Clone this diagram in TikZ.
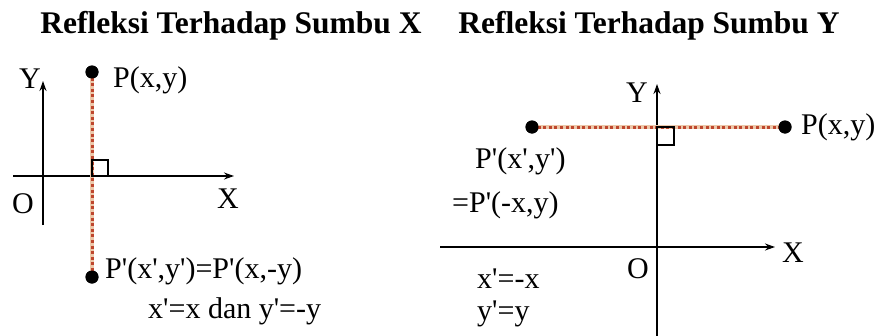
\documentclass[tikz,border=0pt]{standalone}
\usepackage{fontspec}
\newfontfamily\tf{Liberation Serif}
\usetikzlibrary{arrows.meta}
\definecolor{dotred}{RGB}{190,70,45}
\definecolor{halo}{RGB}{236,200,170}
\tikzset{
  axis/.style={line width=2.4pt,-{Stealth[length=10pt,width=7pt]}},
  refl/.style={dotred,line width=3pt,dash pattern=on 3pt off 2.6pt},
  reflhalo/.style={halo,line width=4.5pt},
  pt/.style={circle,fill=black,inner sep=0pt,minimum size=13pt},
  lbl/.style={anchor=base west,inner sep=0pt,font=\tf\fontsize{30}{34}\selectfont},
  ttl/.style={anchor=base,inner sep=0pt,font=\tf\bfseries\fontsize{31.5}{36}\selectfont},
  rangle/.style={line width=1.8pt}
}
\begin{document}
\begin{tikzpicture}[x=1pt,y=-1pt]
\useasboundingbox (0,0) rectangle (879,335);
% ---------- left ----------
\node[ttl] (t1) at (231,33) {Refleksi Terhadap Sumbu X};
\coordinate (oy1b) at (43,225);
\coordinate (oy1t) at (43,81);
\coordinate (ox1l) at (13,176);
\coordinate (ox1r) at (234,176);
\draw[axis] (oy1b) -- (oy1t);
\draw[axis] (ox1l) -- (ox1r);
\node[pt] (P1) at (92,72) {};
\node[pt] (Q1) at (92,277) {};
\draw[reflhalo] (P1.center) -- (Q1.center);
\draw[refl] (P1.center) -- (Q1.center);
\draw[rangle] (92,160) rectangle (108,176);
\node[pt] at (92,72) {};
\node[pt] at (92,277) {};
\node[lbl] (ly1) at (19,88) {Y};
\node[lbl] (lo1) at (12,213) {O};
\node[lbl] (lx1) at (217,208) {X};
\node[lbl] (lp1) at (113,87) {P(x,y)};
\node[lbl] (lq1) at (105,278) {P'(x',y')=P'(x,-y)};
\node[lbl] (le1) at (148,318) {x'=x dan y'=-y};
% ---------- right ----------
\node[ttl] (t2) at (649,33) {Refleksi Terhadap Sumbu Y};
\coordinate (oy2b) at (657,336);
\coordinate (oy2t) at (657,84);
\coordinate (ox2l) at (440,247);
\coordinate (ox2r) at (775,247);
\draw[axis] (oy2b) -- (oy2t);
\draw[axis] (ox2l) -- (ox2r);
\node[pt] (P2) at (785,127) {};
\node[pt] (Q2) at (532,127) {};
\draw[reflhalo] (Q2.center) -- (P2.center);
\draw[refl] (Q2.center) -- (P2.center);
\draw[rangle] (657,127) rectangle (674,145);
\node[pt] at (785,127) {};
\node[pt] at (532,127) {};
\node[lbl] (ly2) at (626,102) {Y};
\node[lbl] (lo2) at (627,278) {O};
\node[lbl] (lx2) at (782,262) {X};
\node[lbl] (lp2) at (801,134) {P(x,y)};
\node[lbl] (lq2) at (475,168) {P'(x',y')};
\node[lbl] (lq2b) at (452,212) {=P'(-x,y)};
\node[lbl] (le2) at (477,288) {x'=-x};
\node[lbl] (le2b) at (477,320) {y'=y};
\end{tikzpicture}
\end{document}
